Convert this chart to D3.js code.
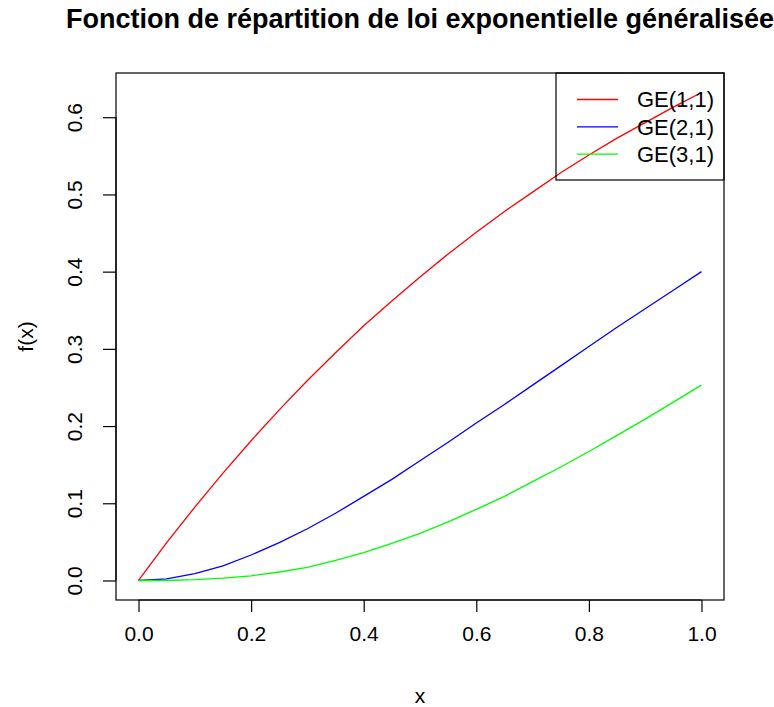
<!DOCTYPE html>
<html>
<head>
<meta charset="utf-8">
<script src="https://cdn.jsdelivr.net/npm/d3@7"></script>
<style>
body{margin:0;background:#fff;}
text{font-family:"Liberation Sans",Arial,sans-serif;fill:#000;}
</style>
</head>
<body>
<svg id="chart" width="774" height="707"></svg>
<script>
const xValues = [0,0.05,0.1,0.15,0.2,0.25,0.3,0.35,0.4,0.45,0.5,0.55,0.6,0.65,0.7,0.75,0.8,0.85,0.9,0.95,1.0];
const ge11 = [0,0.049,0.095,0.139,0.181,0.221,0.259,0.295,0.330,0.362,0.393,0.423,0.451,0.478,0.503,0.528,0.551,0.573,0.593,0.613,0.632];
const ge21 = [0,0.002,0.009,0.019,0.033,0.049,0.067,0.087,0.109,0.131,0.155,0.179,0.204,0.228,0.253,0.278,0.303,0.328,0.352,0.376,0.400];
const ge31 = [0,0.000,0.001,0.003,0.006,0.011,0.017,0.026,0.036,0.048,0.061,0.076,0.092,0.109,0.128,0.147,0.167,0.188,0.209,0.231,0.253];
const seriesNames = ["GE(1,1)","GE(2,1)","GE(3,1)"];
const seriesColors = ["#ff0000","#0000ff","#00ff00"];
const xTicks = [0,0.2,0.4,0.6,0.8,1.0];
const yTicks = [0,0.1,0.2,0.3,0.4,0.5,0.6];
const titleText = "Fonction de répartition de loi exponentielle généralisée";
const xLabel = "x";
const yLabel = "f(x)";

const svg = d3.select("#chart");
const L = 116, R = 724, T = 73, B = 600;
const allY = ge11.concat(ge21, ge31);
const yMin = d3.min(allY), yMax = d3.max(allY);
const xMin = d3.min(xValues), xMax = d3.max(xValues);
const xPad = (xMax - xMin) * 0.04, yPad = (yMax - yMin) * 0.04;
const x = d3.scaleLinear().domain([xMin - xPad, xMax + xPad]).range([L, R]);
const y = d3.scaleLinear().domain([yMin - yPad, yMax + yPad]).range([B, T]);

// series lines
const seriesData = [ge11, ge21, ge31];
const line = d3.line().x(d => x(d[0])).y(d => y(d[1]));
seriesData.forEach((vals, i) => {
  svg.append("path")
    .datum(xValues.map((xv, j) => [xv, vals[j]]))
    .attr("fill", "none")
    .attr("stroke", seriesColors[i])
    .attr("stroke-width", 1.3)
    .attr("d", line);
});

// box
svg.append("rect").attr("x", L).attr("y", T).attr("width", R - L).attr("height", B - T)
  .attr("fill", "none").attr("stroke", "#000").attr("stroke-width", 1.2);

// x axis
const xAxis = d3.axisBottom(x).tickValues(xTicks).tickFormat(d3.format(".1f")).tickSize(12).tickPadding(14);
const gx = svg.append("g").attr("transform", `translate(0,${B})`).call(xAxis);
gx.select(".domain").attr("d", `M${x(xTicks[0])},0H${x(xTicks[xTicks.length-1])}`).attr("stroke","#000").attr("stroke-width",1.2);
gx.selectAll(".tick line").attr("stroke", "#000").attr("stroke-width", 1.2);
gx.selectAll(".tick text").attr("font-size", 21).attr("font-family", "Liberation Sans, Arial, sans-serif").attr("fill","#000");

// y axis
const yAxis = d3.axisLeft(y).tickValues(yTicks).tickFormat(d3.format(".1f")).tickSize(13).tickPadding(0);
const gy = svg.append("g").attr("transform", `translate(${L},0)`).call(yAxis);
gy.select(".domain").attr("d", `M0,${y(yTicks[0])}V${y(yTicks[yTicks.length-1])}`).attr("stroke","#000").attr("stroke-width",1.2);
gy.selectAll(".tick line").attr("stroke", "#000").attr("stroke-width", 1.2);
gy.selectAll(".tick text")
  .attr("font-size", 21).attr("font-family", "Liberation Sans, Arial, sans-serif").attr("fill","#000")
  .attr("text-anchor", "middle").attr("x", null).attr("dy", null)
  .attr("transform", "translate(-41,0) rotate(-90)")
  .attr("y", 0).attr("dy", "0.35em");

// title
svg.append("text").attr("x", (L + R) / 2).attr("y", 28).attr("text-anchor", "middle")
  .attr("font-size", 27).attr("font-weight", "bold").text(titleText);

// axis labels
svg.append("text").attr("x", (L + R) / 2).attr("y", 703).attr("text-anchor", "middle")
  .attr("font-size", 21).text(xLabel);
svg.append("text").attr("transform", `translate(33,${(T + B) / 2}) rotate(-90)`).attr("text-anchor", "middle")
  .attr("font-size", 21).text(yLabel);

// legend
const lgX = 556, lgY = T, lgW = R - 556, lgH = 107;
svg.append("rect").attr("x", lgX).attr("y", lgY).attr("width", lgW).attr("height", lgH)
  .attr("fill", "none").attr("stroke", "#000").attr("stroke-width", 1.2);
seriesNames.forEach((name, i) => {
  const yy = 99.5 + i * 27.3;
  svg.append("line").attr("x1", 577).attr("x2", 618).attr("y1", yy).attr("y2", yy)
    .attr("stroke", seriesColors[i]).attr("stroke-width", 1.3);
  svg.append("text").attr("x", 637).attr("y", yy).attr("dy", "0.35em")
    .attr("font-size", 22).text(name);
});
</script>
</body>
</html>
